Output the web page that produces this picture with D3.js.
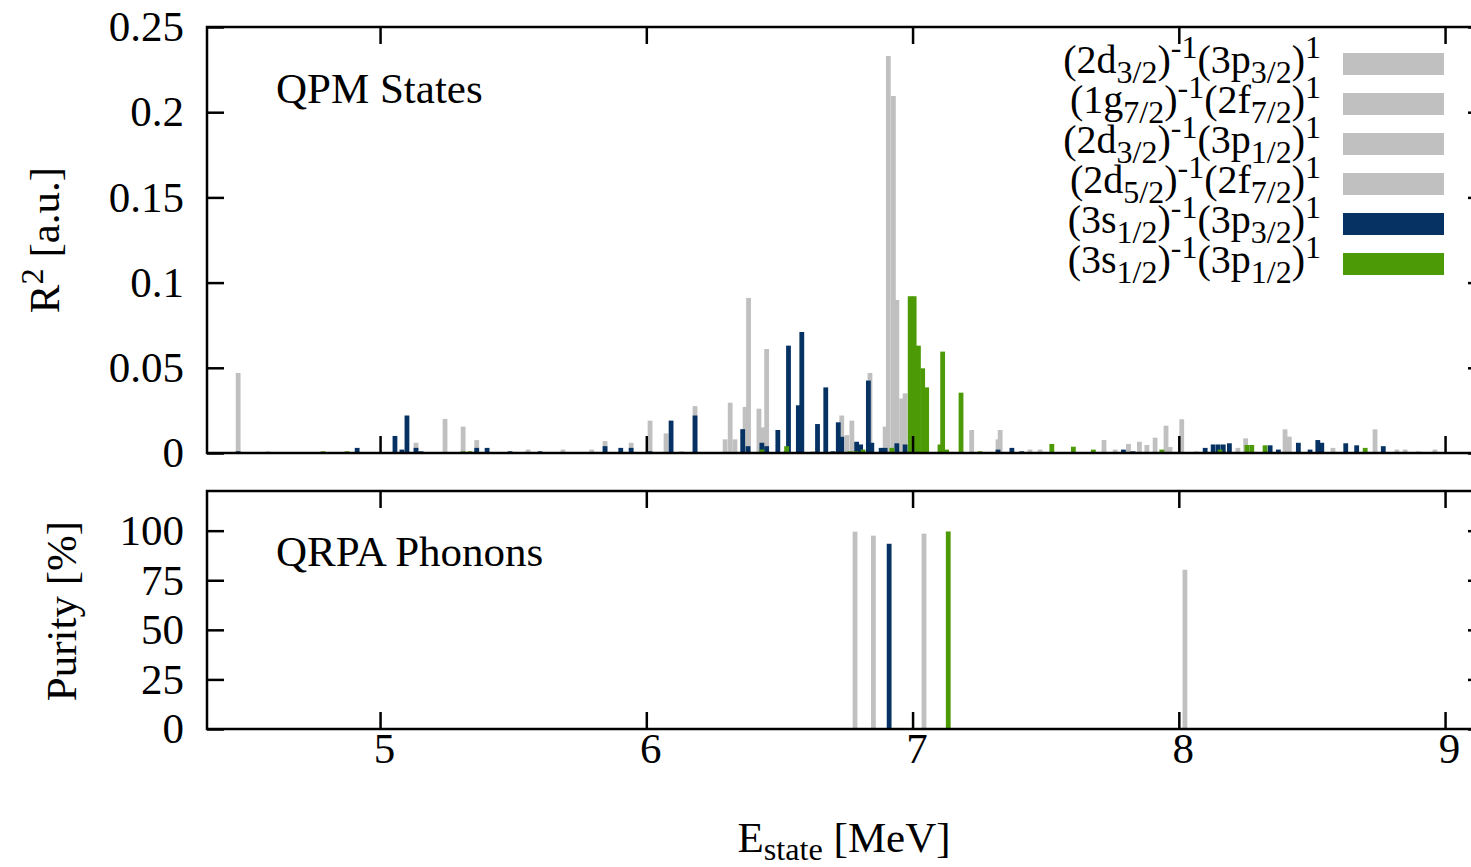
<!DOCTYPE html>
<html>
<head>
<meta charset="utf-8">
<script src="https://d3js.org/d3.v7.min.js"></script>
<style>
  body { margin: 0; background: #fff; }
  text { font-family: "Liberation Serif", "Times New Roman", serif; fill: #000; }
  .tick line { stroke: #000; stroke-width: 2.5; }
  .tick text { font-size: 43px; }
</style>
</head>
<body>
<svg width="1471" height="867"></svg>
<script>
// configuration labels (gnuplot style: _{} sub, ^{} sup)
var configLabels = [
  "(2d_{3/2})^{-1}(3p_{3/2})^{1}",
  "(1g_{7/2})^{-1}(2f_{7/2})^{1}",
  "(2d_{3/2})^{-1}(3p_{1/2})^{1}",
  "(2d_{5/2})^{-1}(2f_{7/2})^{1}",
  "(3s_{1/2})^{-1}(3p_{3/2})^{1}",
  "(3s_{1/2})^{-1}(3p_{1/2})^{1}"
];
var configColors = ["#c0c0c0", "#c0c0c0", "#c0c0c0", "#c0c0c0", "#053163", "#4c9a05"];

// QPM states: [E_state (MeV), R^2 (a.u.)]
var qpmD32P32 = [[4.467,0.047],[4.579,0.001],[6.753,0.0105],[6.772,0.019],[6.840,0.047],[6.897,0.0155],
  [6.909,0.233],[6.928,0.2095],[7.222,0.0135],[7.321,0.008],[7.329,0.0135]];
var qpmG72F72 = [[6.014,0.019],[6.074,0.0115],[6.133,0.001],[6.183,0.0275],[6.296,0.008],[6.315,0.0295],
  [6.333,0.008],[6.371,0.027],[6.384,0.091],[6.423,0.026],[6.437,0.015],[6.452,0.061],[6.626,0.001],[6.734,0.022]];
var qpmD32P12 = [[5.135,0.006],[5.244,0.020],[5.312,0.0155],[5.363,0.0076],[5.556,0.002],[5.687,0.002],
  [5.795,0.002],[5.845,0.007],[5.943,0.006],[6.941,0.0898],[6.959,0.032],[6.972,0.035],[7.441,0.002],[7.479,0.002]];
var qpmD52F72 = [[7.719,0.0076],[7.761,0.002],[7.811,0.0053],[7.852,0.0066],[7.880,0.0047],[7.911,0.009],
  [7.952,0.016],[7.967,0.0035],[8.011,0.0198],[8.067,0.001],[8.222,0.003],[8.251,0.0086],[8.399,0.0139],
  [8.415,0.0096],[8.579,0.003],[8.737,0.0139],[8.819,0.002],[8.850,0.002],[8.900,0.001],[8.962,0.002]];
var qpmS12P32 = [[4.467,0.001],[4.914,0.003],[5.056,0.010],[5.082,0.002],[5.101,0.022],[5.135,0.003],
  [5.154,0.001],[5.363,0.003],[5.402,0.003],[5.488,0.001],[5.601,0.001],[5.845,0.004],[5.904,0.003],
  [5.943,0.003],[6.014,0.001],[6.093,0.019],[6.183,0.022],[6.362,0.014],[6.382,0.004],[6.434,0.006],
  [6.452,0.004],[6.494,0.0135],[6.525,0.001],[6.534,0.063],[6.571,0.028],[6.584,0.071],[6.643,0.017],
  [6.674,0.0385],[6.701,0.001],[6.721,0.018],[6.734,0.0095],[6.790,0.0066],[6.805,0.005],[6.834,0.0425],
  [6.847,0.006],[6.882,0.003],[6.897,0.003],[6.941,0.0057],[6.972,0.005],[7.321,0.002],[7.373,0.003],
  [7.410,0.001],[7.792,0.002],[7.828,0.001],[8.099,0.003],[8.129,0.005],[8.148,0.005],[8.167,0.005],
  [8.190,0.0057],[8.343,0.0045],[8.374,0.002],[8.449,0.006],[8.493,0.002],[8.522,0.0076],[8.537,0.006],
  [8.627,0.0057],[8.668,0.0045],[8.768,0.004]];
var qpmS12P12 = [[4.786,0.001],[4.876,0.001],[5.312,0.001],[5.338,0.001],[6.434,0.002],[6.527,0.004],
  [6.765,0.001],[6.788,0.001],[6.814,0.002],[6.922,0.003],[6.991,0.092],[7.006,0.092],[7.022,0.063],
  [7.038,0.0497],[7.053,0.0385],[7.103,0.005],[7.113,0.0595],[7.128,0.002],[7.182,0.0354],[7.254,0.001],
  [7.523,0.0053],[7.604,0.0037],[7.679,0.002],[7.936,0.002],[8.155,0.002],[8.256,0.0047],[8.274,0.0047],
  [8.324,0.0045],[8.700,0.003]];
var qpmSeries = [qpmD32P32, qpmG72F72, qpmD32P12, qpmD52F72, qpmS12P32, qpmS12P12];

// QRPA phonons
var phononEnergy = [6.853, 6.784, 7.043, 8.023, 6.912, 7.134];
var phononPurity = [97.5, 99.5, 98.5, 80.3, 93.4, 99.6];
var phononConfig = [0, 1, 2, 3, 4, 5];

// ticks
var energyTicks = [5, 6, 7, 8, 9];
var r2Ticks = [0, 0.05, 0.1, 0.15, 0.2, 0.25];
var r2TickLabels = ["0", "0.05", "0.1", "0.15", "0.2", "0.25"];
var purityTicks = [0, 25, 50, 75, 100];

var boxWidth = 0.018;
var fs = 43;

var svg = d3.select("svg");

var x = d3.scaleLinear().domain([4.35, 9.15]).range([207, 1485]);
var yTop = d3.scaleLinear().domain([0, 0.25]).range([453, 27]);
var yBot = d3.scaleLinear().domain([0, 120]).range([729, 491]);

// enhanced text: _{..} subscript, ^{..} superscript
function rich(sel, str, size, ratio, subShift) {
  var re = /([_^])\{([^}]*)\}|([^_^]+)/g, m, cur = 0;
  while ((m = re.exec(str))) {
    var t = m[3], s = size, shift = 0;
    if (m[1]) {
      t = m[2];
      s = size * ratio;
      shift = m[1] === "_" ? size * subShift : -size * 0.38;
    }
    sel.append("tspan").attr("dy", shift - cur).style("font-size", s + "px").text(t);
    cur = shift;
  }
}

function bars(g, data, y, color) {
  g.selectAll(null)
    .data(data)
    .enter().append("rect")
    .attr("x", function (d) { return x(d[0] - boxWidth / 2); })
    .attr("width", function (d) { return x(d[0] + boxWidth / 2) - x(d[0] - boxWidth / 2); })
    .attr("y", function (d) { return y(d[1]); })
    .attr("height", function (d) { return y(0) - y(d[1]); })
    .attr("fill", color);
}

// top panel bars, gray first then navy then green
var gTop = svg.append("g");
qpmSeries.forEach(function (s, i) { bars(gTop, s, yTop, configColors[i]); });

// bottom panel phonons
var gBot = svg.append("g");
phononEnergy.forEach(function (e, i) {
  bars(gBot, [[e, phononPurity[i]]], yBot, configColors[phononConfig[i]]);
});

function frame(y) {
  var r = y.range();
  svg.append("g").attr("transform", "translate(0," + r[1] + ")")
    .call(d3.axisTop(x).tickValues(energyTicks).tickSize(-17).tickFormat(""));
  svg.append("g").attr("transform", "translate(0," + r[0] + ")")
    .call(d3.axisBottom(x).tickValues(energyTicks).tickSize(-17).tickFormat(""));
  svg.selectAll(".domain").remove();
  svg.append("rect")
    .attr("x", x.range()[0]).attr("y", r[1])
    .attr("width", x.range()[1] - x.range()[0]).attr("height", r[0] - r[1])
    .attr("fill", "none").attr("stroke", "#000").attr("stroke-width", 2.5);
}
frame(yTop);
frame(yBot);

// y axes
svg.append("g").attr("transform", "translate(" + x.range()[0] + ",0)")
  .call(d3.axisLeft(yTop).tickValues(r2Ticks).tickSize(-17).tickPadding(23)
    .tickFormat(function (d, i) { return r2TickLabels[i]; }));
svg.append("g").attr("transform", "translate(" + x.range()[1] + ",0)")
  .call(d3.axisRight(yTop).tickValues(r2Ticks).tickSize(-17).tickFormat(""));
svg.append("g").attr("transform", "translate(" + x.range()[0] + ",0)")
  .call(d3.axisLeft(yBot).tickValues(purityTicks).tickSize(-17).tickPadding(23));
svg.append("g").attr("transform", "translate(" + x.range()[1] + ",0)")
  .call(d3.axisRight(yBot).tickValues(purityTicks).tickSize(-17).tickFormat(""));

// x axis labels
svg.append("g").attr("transform", "translate(0,729)")
  .call(d3.axisBottom(x).tickValues(energyTicks).tickSize(0).tickPadding(3).tickFormat(d3.format("d")))
  .selectAll("text").attr("dx", 4);
svg.selectAll(".domain").remove();
svg.selectAll(".tick text").attr("font-family", "Liberation Serif").attr("fill", "#000");

// axis titles
rich(svg.append("text").attr("transform", "translate(59,240) rotate(-90)")
  .attr("text-anchor", "middle"), "R^{2} [a.u.]", fs, 0.75, 0.22);
rich(svg.append("text").attr("transform", "translate(76,611) rotate(-90)")
  .attr("text-anchor", "middle"), "Purity [%]", fs, 0.75, 0.22);
rich(svg.append("text").attr("x", 844).attr("y", 852)
  .attr("text-anchor", "middle"), "E_{state} [MeV]", fs, 0.75, 0.18);

// panel labels
svg.append("text").attr("x", 276).attr("y", 103).style("font-size", fs + "px").text("QPM States");
svg.append("text").attr("x", 276).attr("y", 566).style("font-size", fs + "px").text("QRPA Phonons");

// legend
var legend = svg.append("g");
configLabels.forEach(function (lab, i) {
  var cy = 64 + i * 40;
  rich(legend.append("text").attr("x", 1321).attr("y", cy + 9).attr("text-anchor", "end"), lab, 40, 0.8, 0.25);
  legend.append("rect").attr("x", 1343).attr("y", cy - 11).attr("width", 101).attr("height", 22)
    .attr("fill", configColors[i]);
});
</script>
</body>
</html>
